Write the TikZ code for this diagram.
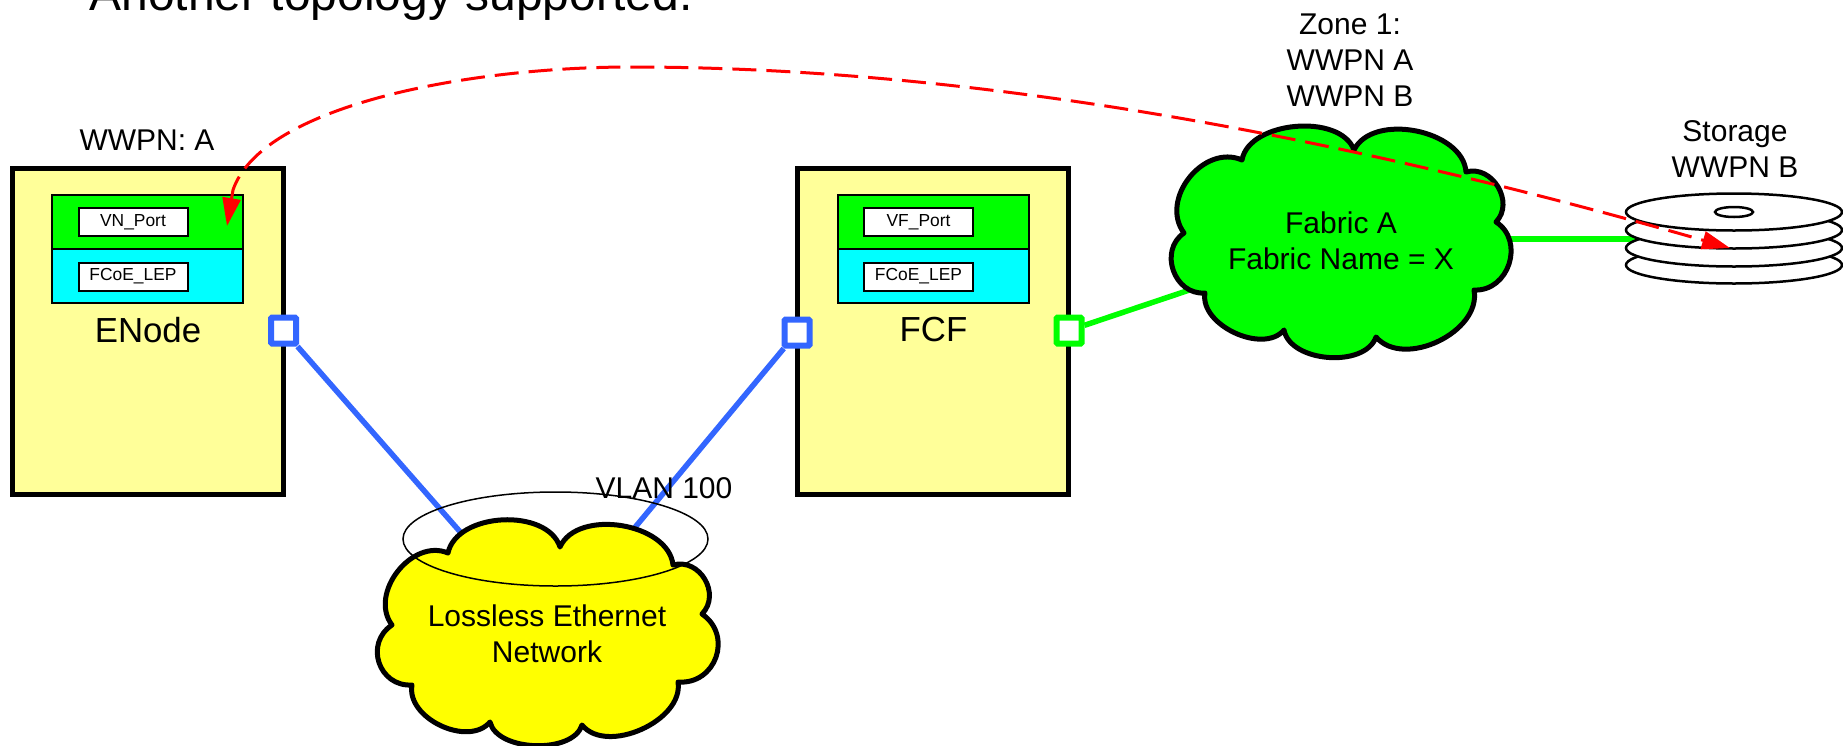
\documentclass[tikz,border=0pt]{standalone}
\usepackage{fontspec}
\setmainfont{Liberation Sans}
\usetikzlibrary{shapes.geometric, arrows.meta}
\definecolor{hostyellow}{HTML}{FFFF99}
\definecolor{linkblue}{HTML}{3366FF}
\definecolor{fcgreen}{HTML}{00FF00}
\definecolor{lepcyan}{HTML}{00FFFF}
\definecolor{lanyellow}{HTML}{FFFF00}
\definecolor{loginred}{HTML}{FF0000}
\begin{document}
\begin{tikzpicture}[x=0.5pt, y=-0.5pt, node distance=392.75pt,
		hostbox/.style={draw, line width=2.5pt, fill=hostyellow, minimum width=135.5pt, minimum height=163pt},
		cell/.style={draw, line width=1pt, minimum width=95.5pt, minimum height=27pt, outer sep=0pt},
		portlabel/.style={draw, line width=1pt, fill=white, minimum width=54.5pt, minimum height=14pt, inner sep=0pt, font=\fontsize{8.7}{10}\selectfont},
		hostname/.style={font=\fontsize{17.4}{20}\selectfont, inner sep=0pt},
		port/.style={draw, line width=3pt, fill=white, rounded corners=0.5pt, minimum width=12.5pt, minimum height=13pt, inner sep=0pt},
		link/.style={line width=2.75pt},
		cloudline/.style={draw, line width=2.5pt, line join=round},
		puff/.style={bend left=75, looseness=#1},
		caption/.style={font=\fontsize{15}{18}\selectfont, align=center, inner sep=0pt},
		disk/.style={ellipse, draw, line width=1.25pt, fill=white, minimum width=108pt, minimum height=18.5pt, inner sep=0pt}]
		\useasboundingbox (0,0) rectangle (1843,745);
		\node[anchor=base west, inner sep=0pt, font=\fontsize{24}{28}\selectfont] (title) at (89,10) {Another topology supported.};

		\node[hostbox] (enode) at (147.5,331) {};
		\node[hostbox] (fcf) [right of=enode] {};

		\node[cell, fill=fcgreen] (enodevn) at (147.5,222) {};
		\node[cell, fill=lepcyan] (enodelep) [below of=enodevn, node distance=27pt] {};
		\node[cell, fill=fcgreen] (fcfvf) [right of=enodevn] {};
		\node[cell, fill=lepcyan] (fcflep) [right of=enodelep] {};
		\node[portlabel] (vnlabel) at (133,222) {VN\_Port};
		\node[portlabel] (enodeleplabel) at (133,276.5) {FCoE\_LEP};
		\node[portlabel] (vflabel) [right of=vnlabel] {VF\_Port};
		\node[portlabel] (fcfleplabel) [right of=enodeleplabel] {FCoE\_LEP};
		\node[hostname] (enodename) at (148,330) {ENode};
		\node[hostname] (fcfname) [right of=enodename] {FCF};

		\node[port, draw=linkblue] (enodeport) at (283.5,330.5) {};
		\node[port, draw=linkblue] (fcflan) at (797,332.5) {};
		\node[port, draw=fcgreen] (fcfsan) at (1069,330.5) {};

		\coordinate (lan) at (548,632);
		\coordinate (fabric) at (1341,239);
		\coordinate (disk2) at (1734,230);

		\path[link]
		(enodeport) edge [linkblue] (lan)
		(fcflan) edge [linkblue] (lan)
		(fcfsan) edge [fcgreen] (fabric)
		(fabric) edge [fcgreen] (fabric -| disk2);

		% clouds, clockwise from the upper left
		\path[cloudline, fill=lanyellow] (448,553) to[puff=0.95] (560,547) to[puff=0.95] (673,565)
		to[puff=1.25] (702,614) to[puff=1.35] (678,682) to[puff=0.95] (582,725)
		to[puff=0.85] (490,722) to[puff=1] (412,685) to[puff=1.35] (392,625)
		to[puff=1.1] cycle;
		\path[cloudline, fill=fcgreen] (1242,160) to[puff=0.9] (1354,150) to[puff=0.95] (1466,172)
		to[puff=1.2] (1496,222) to[puff=1.25] (1474,290) to[puff=1] (1376,337)
		to[puff=0.92] (1284,330) to[puff=0.95] (1205,293) to[puff=1.25] (1184,233)
		to[puff=1.15] cycle;

		\node[ellipse, draw, line width=0.75pt, minimum width=152.5pt, minimum height=47pt, inner sep=0pt] (vlan) at (555.5,539) {};
		\node[caption, anchor=base] (vlanname) at (664,498) {VLAN 100};
		\node[caption] (lantext) at (547,634) {Lossless Ethernet\\Network};
		\node[caption] (fabrictext) at (1341,241) {Fabric A\\Fabric Name = X};
		\node[caption, anchor=base] (wwpna) at (147,150) {WWPN: A};
		\node[caption] (zone) at (1350,60) {Zone 1:\\WWPN A\\WWPN B};
		\node[caption] (storage) at (1735,149) {Storage\\WWPN B};

		\foreach \n/\y in {4/265, 3/248, 2/230, 1/212}
			\node[disk] (platter\n) at (1734,\y) {};
		\node[ellipse, draw, line width=1.25pt, minimum width=19pt, minimum height=5pt, inner sep=0pt] (spindle) at (1734,212) {};

		\coordinate (vntip) at (227,226);
		\coordinate (disktip) at (1730,248);
		\draw[{Triangle[length=14pt,width=9pt]}-{Triangle[length=14pt,width=9pt]}, loginred, line width=1.5pt, dash pattern=on 12pt off 5pt]
		(vntip) -- (233,190) .. controls (262,105) and (470,67) .. (631,67) .. controls (900,67) and (1250,110) .. (disktip);
	\end{tikzpicture}
\end{document}
